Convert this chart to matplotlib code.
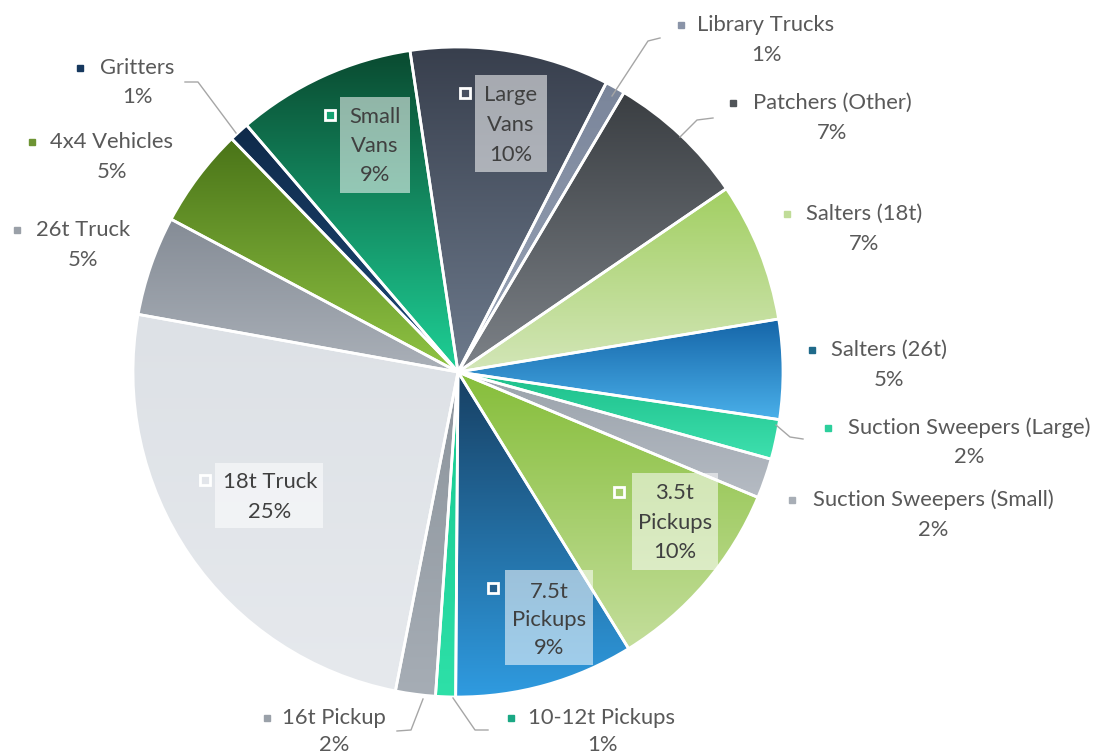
import matplotlib
matplotlib.use("Agg")
import matplotlib.pyplot as plt
import numpy as np
from matplotlib.colors import to_rgb
from matplotlib.patches import Rectangle

W, H = 1095, 754

# ---- data -------------------------------------------------------------
categories = ["Large Vans", "Library Trucks", "Patchers (Other)", "Salters (18t)",
              "Salters (26t)", "Suction Sweepers (Large)", "Suction Sweepers (Small)",
              "3.5t Pickups", "7.5t Pickups", "10-12t Pickups", "16t Pickup",
              "18t Truck", "26t Truck", "4x4 Vehicles", "Gritters", "Small Vans"]
shares = [10, 1, 7, 7, 5, 2, 2, 10, 9, 1, 2, 25, 5, 5, 1, 9]

# gradient colours per slice (top, bottom) and the legend-key colour
grad_top = ["#383f4d", "#7a859a", "#3a3e42", "#a2cf62", "#1565a8", "#1cbf8a",
            "#9aa2ab", "#86be3a", "#173f62", "#14c890", "#8c949c", "#dde1e6",
            "#858c96", "#4a7418", "#0f2a4a", "#0a4a30"]
grad_bot = ["#6d7a8c", "#9aa5b8", "#7d8288", "#d3e6b8", "#4ab0ea", "#3ee0ae",
            "#b5bbc3", "#c4de9c", "#2f9be0", "#2ee0a8", "#a6adb5", "#e6e9ed",
            "#aab0b8", "#90c444", "#1e4a78", "#1ed096"]
key_col = ["#4a5262", "#8a94a8", "#505458", "#c0dc98", "#1f6a8a", "#2ccf9c",
           "#a8aeb6", "#a4cc6c", "#24608e", "#1aa884", "#9aa1a9", "#e2e5ea",
           "#9aa0a8", "#6e9434", "#16385e", "#14a070"]

# ---- layout (pixel positions, y measured from the top) ---------------
CX, CY, R = 458, 372, 325
START = 98.5

out_pos = {  # key x, text centre x, first line y, second line y
    "Gritters": (80, 137, 68, 97),
    "4x4 Vehicles": (32, 112, 142, 172),
    "26t Truck": (17, 83, 230, 260),
    "Library Trucks": (681, 766, 25, 55),
    "Patchers (Other)": (733, 832, 103, 133),
    "Salters (18t)": (787, 864, 214, 244),
    "Salters (26t)": (812, 889, 350, 380),
    "Suction Sweepers (Large)": (828, 969, 428, 457),
    "Suction Sweepers (Small)": (792, 933, 500, 530),
    "16t Pickup": (267, 334, 718, 745),
    "10-12t Pickups": (511, 602, 718, 745),
}
in_pos = {  # box (x0, y0, x1, y1), key (x, y), text centre x, line ys, lines
    "Small Vans": ((340, 97, 410, 193), (330, 115), 375, [117, 146, 175], ["Small", "Vans"]),
    "Large Vans": ((475, 75, 547, 172), (465, 93), 511, [95, 125, 155], ["Large", "Vans"]),
    "3.5t Pickups": ((632, 473, 718, 570), (619, 492), 675, [493, 523, 552], ["3.5t", "Pickups"]),
    "7.5t Pickups": ((505, 570, 593, 665), (493, 588), 549, [592, 620, 648], ["7.5t", "Pickups"]),
    "18t Truck": ((215, 463, 323, 528), (205, 480), 270, [482, 512], ["18t Truck"]),
}
leaders = {
    "Gritters": [(185, 82), (198, 82), (236, 133)],
    "Library Trucks": [(660, 38), (648, 41), (612, 96)],
    "Patchers (Other)": [(713, 118), (697, 120), (680, 137)],
    "Suction Sweepers (Large)": [(803, 439), (790, 437), (776, 425)],
    "16t Pickup": [(397, 731), (411, 730), (423, 699)],
    "10-12t Pickups": [(453, 698), (475, 730), (488, 730)],
}

FONT = "Lato"
TXT = "#595959"
FS = 15.8


def P(x, y):
    return x, H - y


fig = plt.figure(figsize=(W / 100, H / 100), dpi=100)
ax = fig.add_axes([0, 0, 1, 1])

wedges, _ = ax.pie(shares, startangle=START, counterclock=False,
                   center=P(CX, CY), radius=R, colors=key_col,
                   wedgeprops=dict(edgecolor="white", linewidth=2.0))

# vertical gradient fill clipped to every slice
for w, top, bot in zip(wedges, grad_top, grad_bot):
    bb = w.get_path().get_extents(w.get_patch_transform())
    t = np.linspace(0, 1, 256)[:, None]
    c0, c1 = np.array(to_rgb(top)), np.array(to_rgb(bot))
    img = (c0 * (1 - t) + c1 * t)[:, None, :]
    im = ax.imshow(img, extent=(bb.x0, bb.x1, bb.y0, bb.y1), origin="upper",
                   aspect="auto", zorder=1, interpolation="bilinear")
    im.set_clip_path(w)
    w.set_facecolor("none")
    w.set_zorder(2)

ax.set_xlim(0, W)
ax.set_ylim(0, H)
ax.set_aspect("equal")
ax.axis("off")

# leader lines
for name, pts in leaders.items():
    xs, ys = zip(*[P(x, y) for x, y in pts])
    ax.plot(xs, ys, color="#a6a6a6", lw=1.0, zorder=3)

# outside labels
for i, name in enumerate(categories):
    if name in out_pos:
        kx, tx, ty, py = out_pos[name]
        ax.add_patch(Rectangle(P(kx - 3, ty + 3), 6, 6, color=key_col[i], zorder=4))
        ax.text(*P(tx, ty), name, ha="center", va="center", fontsize=FS,
                family=FONT, color=TXT, zorder=4)
        ax.text(*P(tx, py), f"{shares[i]}%", ha="center", va="center",
                fontsize=FS, family=FONT, color=TXT, zorder=4)

# inside labels with translucent boxes
for i, name in enumerate(categories):
    if name in in_pos:
        (x0, y0, x1, y1), (kx, ky), tx, lys, lines = in_pos[name]
        ax.add_patch(Rectangle(P(x0, y1), x1 - x0, y1 - y0, facecolor="white",
                               alpha=0.55, edgecolor="none", zorder=4))
        ax.add_patch(Rectangle(P(kx - 5, ky + 5), 10, 10, facecolor=key_col[i],
                               edgecolor="white", lw=2.0, zorder=5))
        for txt, ly in zip(lines + [f"{shares[i]}%"], lys):
            ax.text(*P(tx, ly), txt, ha="center", va="center", fontsize=FS,
                    family=FONT, color="#404040", zorder=6)

fig.savefig("out.png", dpi=100, facecolor="white")
